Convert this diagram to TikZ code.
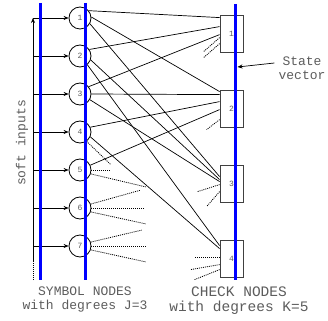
\documentclass[tikz,border=0pt]{standalone}
\usepackage{fontspec}
\usepackage{tikz}
\usetikzlibrary{calc}
\usetikzlibrary{arrows.meta}
\usetikzlibrary{positioning}
\newfontfamily\LdpcMono{Liberation Mono}
\definecolor{vectorblue}{HTML}{0000FF}
\definecolor{labelgray}{HTML}{5C5C5C}
\newcommand{\LdpcLabelFont}{\fontsize{13pt}{14pt}\selectfont\LdpcMono}
\newcommand{\LdpcCheckLabelFont}{\fontsize{14.5pt}{15pt}\selectfont\LdpcMono}
\newcommand{\LdpcIndexFont}{\fontsize{8pt}{9pt}\selectfont\LdpcMono}
\tikzset{
  symnode/.style={
    draw=black, circle, minimum size=22pt, inner sep=0pt,
    line width=0.8pt, font=\LdpcIndexFont, text=labelgray
  },
  chknode/.style={
    draw=black!75, rectangle, minimum width=23pt, minimum height=37pt,
    inner sep=0pt, line width=0.8pt, font=\LdpcIndexFont, text=labelgray
  },
  statevec/.style={draw=vectorblue, line width=3pt},
  tannerlink/.style={draw=black, line width=0.7pt},
  openlink/.style={draw=black, line width=0.8pt, dash pattern=on 1pt off 1pt},
  inarrow/.style={-{Stealth[length=5pt,width=4pt]}, line width=0.7pt},
  nodecaption/.style={font=\LdpcLabelFont, text=labelgray, align=center, inner sep=0pt}
}

\begin{document}
\begin{tikzpicture}[x=1pt, y=-1pt]
  \useasboundingbox (0,0) rectangle (328,320);
  \node[symnode] (s1) at (80,18) {1};
  \node[symnode] (s2) at (80,56) {2};
  \node[symnode] (s3) at (80,94) {3};
  \node[symnode] (s4) at (80,132) {4};
  \node[symnode] (s5) at (80,170) {5};
  \node[symnode] (s6) at (80,208) {6};
  \node[symnode] (s7) at (80,246) {7};
  \node[chknode] (c1) at (231.5,33.5) {1};
  \node[chknode] (c2) at (231.5,108.5) {2};
  \node[chknode] (c3) at (231.5,183.5) {3};
  \node[chknode] (c4) at (231.5,258.5) {4};

  \draw[tannerlink] (s1.40) -- ($(c1.north west)+(0,3)$);
  \draw[tannerlink] (s1.5) -- ($(c2.north west)+(0,2)$);
  \draw[tannerlink] (s1.-30) -- ($(c3.north west)+(0,12)$);
  \draw[tannerlink] (s2.35) -- ($(c1.north west)+(0,12)$);
  \draw[tannerlink] (s2.-20) -- ($(c3.north west)+(0,15)$);
  \draw[tannerlink] (s2.-50) -- ($(c4.north west)+(0,6)$);
  \draw[tannerlink] (s3.40) -- ($(c1.north west)+(0,20)$);
  \draw[tannerlink] (s3.0) -- ($(c2.north west)+(0,5)$);
  \draw[tannerlink] (s3.-30) -- ($(c3.north west)+(0,17)$);
  \draw[tannerlink] (s4.25) -- ($(c2.north west)+(0,12)$);
  \draw[tannerlink] (s4.-25) -- ($(c4.north west)+(0,9)$);
  \draw[tannerlink] (s5.25) -- ($(c2.north west)+(0,20)$);

  \draw[openlink] (s4.-55) -- ++(24,23);
  \draw[openlink] (s5.0) -- ++(20,0);
  \draw[openlink] (s5.-20) -- ++(55,13);
  \draw[openlink] (s6.20) -- ++(50,-14);
  \draw[openlink] (s6.0) -- ++(54,0);
  \draw[openlink] (s6.-20) -- ++(55,12);
  \draw[openlink] (s7.20) -- ++(51,-12);
  \draw[openlink] (s7.0) -- ++(56,0);
  \draw[openlink] (s7.-20) -- ++(55,12);
  \draw[openlink] ($(c1.north west)+(0,23)$) -- ++(-16,14);
  \draw[openlink] ($(c1.north west)+(0,29)$) -- ++(-16,14);
  \draw[openlink] ($(c2.north west)+(0,30)$) -- ++(-13,10);
  \draw[openlink] ($(c3.north west)+(0,20)$) -- ++(-22,7);
  \draw[openlink] ($(c3.north west)+(0,27)$) -- ++(-13,15);
  \draw[openlink] ($(c4.north west)+(0,18)$) -- ++(-25,0);
  \draw[openlink] ($(c4.north west)+(0,25)$) -- ++(-29,5);
  \draw[openlink] ($(c4.north west)+(0,30)$) -- ++(-25,10);

  \coordinate (inbot) at (33,280);
  \coordinate (inmid) at (33,262);
  \draw[openlink] (inbot) -- (inmid);
  \draw[inarrow] (inmid) -- (inmid |- s1);
  \foreach \i in {1,...,7}
    \draw[inarrow] (inmid |- s\i) -- (s\i);

  \draw[statevec] (40,3) -- (40,280);
  \draw[statevec] (85,3) -- (85,280);
  \draw[statevec] (235,4) -- (235,280);

  \coordinate (svpt) at (237.5,67);
  \node[nodecaption] (sv) at (302,68) {State\\vector};
  \draw[inarrow] ($(sv.west)+(-4,-5)$) -- (svpt);
  \node[nodecaption, rotate=90] (soft) at (22,143) {soft inputs};
  \node[nodecaption, anchor=north] (symcap) at (85,287) {SYMBOL NODES\\with degrees J=3};
  \node[nodecaption, anchor=north, font=\LdpcCheckLabelFont] (chkcap) at (239,287) {CHECK NODES\\with degrees K=5};
\end{tikzpicture}
\end{document}
